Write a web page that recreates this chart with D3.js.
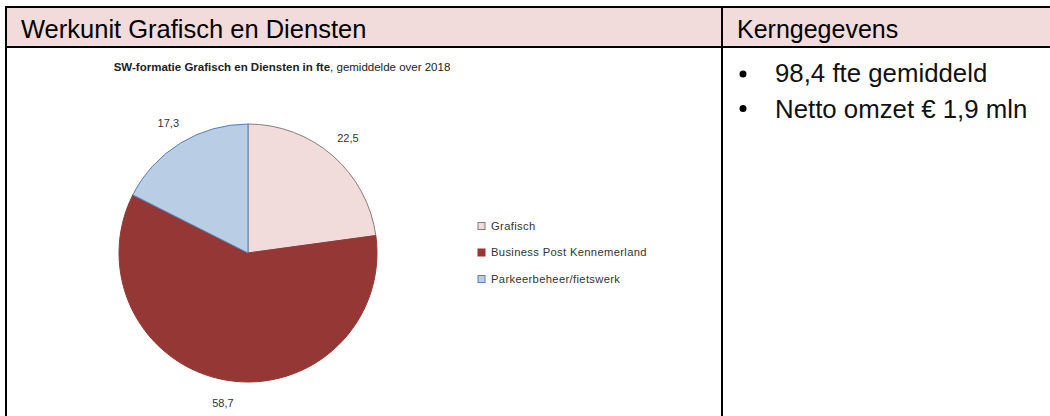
<!DOCTYPE html>
<html>
<head>
<meta charset="utf-8">
<title>Werkunit Grafisch en Diensten</title>
<script src="https://d3js.org/d3.v7.min.js"></script>
<style>
  body { margin: 0; background: #fff; font-family: "Liberation Sans", Arial, sans-serif; }
</style>
</head>
<body>
<svg id="sheet" width="1050" height="416"></svg>
<script>
// data
var categories = ["Grafisch", "Business Post Kennemerland", "Parkeerbeheer/fietswerk"];
var fteValues = [22.5, 58.7, 17.3];
var valueLabels = ["22,5", "58,7", "17,3"];
var keyFacts = ["98,4 fte gemiddeld", "Netto omzet \u20ac 1,9 mln"];

var fills = ["#f2dcdb", "#953735", "#b9cde5"];
var strokes = ["#8c7b7a", "#953735", "#4f81bd"];

var svg = d3.select("#sheet");

// table frame
var divX = 722, topY = 7, headBottom = 47;
svg.append("rect")
  .attr("x", 6).attr("y", topY)
  .attr("width", 1050).attr("height", headBottom - topY)
  .attr("fill", "#f2dcdb");

var lines = [
  [5, topY, 1050, topY],
  [6, topY, 6, 416],
  [6, headBottom, 1050, headBottom],
  [divX, topY, divX, 416]
];
svg.selectAll("line.frame")
  .data(lines)
  .enter().append("line")
  .attr("class", "frame")
  .attr("x1", function(d) { return d[0]; })
  .attr("y1", function(d) { return d[1]; })
  .attr("x2", function(d) { return d[2]; })
  .attr("y2", function(d) { return d[3]; })
  .attr("stroke", "#000")
  .attr("stroke-width", 2);

svg.append("text")
  .attr("x", 21).attr("y", 38)
  .style("font-size", "25.5px")
  .text("Werkunit Grafisch en Diensten");
svg.append("text")
  .attr("x", 737).attr("y", 38)
  .style("font-size", "25px")
  .text("Kerngegevens");

// bullet list
var facts = svg.append("g");
facts.selectAll("circle")
  .data(keyFacts)
  .enter().append("circle")
  .attr("cx", 743)
  .attr("cy", function(d, i) { return 74 + i * 34.5; })
  .attr("r", 3.5)
  .attr("fill", "#000");
facts.selectAll("text")
  .data(keyFacts)
  .enter().append("text")
  .attr("x", 775)
  .attr("y", function(d, i) { return 82 + i * 36; })
  .style("font-size", "25.8px")
  .style("fill", "#111")
  .text(function(d) { return d; });

// chart title
var title = svg.append("text")
  .attr("x", 282).attr("y", 71)
  .attr("text-anchor", "middle")
  .style("font-size", "11.5px")
  .style("fill", "#222");
title.append("tspan").style("font-weight", "bold").text("SW-formatie Grafisch en Diensten in fte");
title.append("tspan").text(", gemiddelde over 2018");

// pie
var cx = 248, cy = 253, radius = 129;
var pie = d3.pie().sort(null).value(function(d) { return d; });
var arcs = pie(fteValues);
var arc = d3.arc().innerRadius(0).outerRadius(radius);
var labelArc = d3.arc().innerRadius(152).outerRadius(152);

var g = svg.append("g").attr("transform", "translate(" + cx + "," + cy + ")");
g.selectAll("path")
  .data(arcs)
  .enter().append("path")
  .attr("d", arc)
  .attr("fill", function(d, i) { return fills[i]; })
  .attr("stroke", function(d, i) { return strokes[i]; })
  .attr("stroke-width", 1);

g.selectAll("text")
  .data(arcs)
  .enter().append("text")
  .attr("transform", function(d) { return "translate(" + labelArc.centroid(d) + ")"; })
  .attr("text-anchor", "middle")
  .attr("dy", "0.35em")
  .style("font-size", "11px")
  .style("fill", "#333")
  .text(function(d, i) { return valueLabels[i]; });

// legend
var legend = svg.append("g").attr("transform", "translate(478,226)");
var item = legend.selectAll("g")
  .data(categories)
  .enter().append("g")
  .attr("transform", function(d, i) { return "translate(0," + (i * 26.5) + ")"; });
item.append("rect")
  .attr("x", 0).attr("y", -3.5)
  .attr("width", 7).attr("height", 7)
  .attr("fill", function(d, i) { return fills[i]; })
  .attr("stroke", function(d, i) { return strokes[i]; })
  .attr("stroke-width", 1);
item.append("text")
  .attr("x", 13).attr("dy", "0.35em")
  .style("font-size", "11.2px")
  .style("letter-spacing", "0.35px")
  .style("fill", "#333")
  .text(function(d) { return d; });
</script>
</body>
</html>
